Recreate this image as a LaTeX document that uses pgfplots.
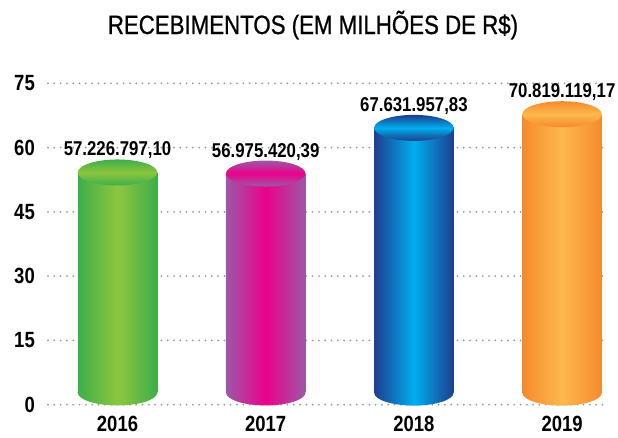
\documentclass[border=0pt]{standalone}
\usepackage{pgfplots}
\pgfplotsset{compat=1.18}
\usepackage{fontspec}
\setmainfont{Liberation Sans}[FakeStretch=0.84]
\newfontfamily\titlefont{Liberation Sans}[FakeStretch=0.84, FakeBold=0.8]
\definecolor{gE}{HTML}{3DAE4A}
\definecolor{gH}{HTML}{8DC63F}
\definecolor{pE}{HTML}{9B59A6}
\definecolor{pH}{HTML}{EC008C}
\definecolor{bE}{HTML}{1E3E8E}
\definecolor{bH}{HTML}{00AEEF}
\definecolor{oE}{HTML}{F58A2B}
\definecolor{oH}{HTML}{FDB94E}
\pgfdeclareplotmark{blank}{}
\pgfplotsset{
  cyl/.style 2 args={
    scatter, only marks, mark=blank,
    point meta=y, point meta min=0, point meta max=75,
    scatter/@pre marker code/.code={%
      \pgfkeys{/pgf/fpu=false}%
      \pgfmathsetmacro\cylH{\pgfplotspointmetatransformed*0.3224}%
      \pgfmathsetlengthmacro\cylB{13pt-\cylH pt}%
      \shade[draw=none, left color=#1, right color=#1, middle color=#2] (0pt,\cylB) ellipse [x radius=39.75pt, y radius=13pt];
      \shade[draw=none, left color=#1, right color=#1, middle color=#2] (-39.75pt,\cylB) rectangle (39.75pt,-13pt);
      \shade[draw=none, top color=#1, bottom color=#1, middle color=#2] (0pt,-13pt) ellipse [x radius=39.75pt, y radius=13pt];
    },
    scatter/@post marker code/.code={},
  }
}
\begin{document}
\begin{tikzpicture}
\begin{axis}[
  at={(48pt,32.3pt)}, anchor=south west,
  scale only axis, width=559pt, height=321.4pt,
  xmin=-0.469, xmax=3.303, ymin=0, ymax=75,
  clip=false,
  axis line style={draw=none},
  major tick length=0pt,
  ytick={0,15,30,45,60,75},
  xtick={0,1,2,3}, xticklabels={2016,2017,2018,2019},
  ymajorgrids,
  grid style={color=black!40, line width=2pt, line cap=round, dash pattern=on 0pt off 6.3pt},
  tick label style={font=\fontsize{22}{26}\selectfont\bfseries},
  /pgf/number format/assume math mode=true,
  yticklabel style={inner sep=0pt, xshift=-13pt},
  xticklabel style={anchor=north, inner sep=0pt, yshift=-11.5pt},
  title={RECEBIMENTOS (EM MILHÕES DE R\$)},
  title style={at={(0.474,1)}, anchor=base, inner sep=0pt, yshift=43.3pt, font=\fontsize{26.5}{30}\titlefont},
]
\addplot[cyl={gE}{gH}] coordinates {(0,57.226797)};
\addplot[cyl={pE}{pH}] coordinates {(1,56.975420)};
\addplot[cyl={bE}{bH}] coordinates {(2,67.631958)};
\addplot[cyl={oE}{oH}] coordinates {(3,70.819119)};
\addplot[only marks, mark=blank, point meta=explicit symbolic, nodes near coords,
  nodes near coords style={anchor=base, inner sep=0pt, yshift=3.5pt, text=black, font=\fontsize{20}{24}\selectfont\bfseries}]
  coordinates {(0,57.226797)[57.226.797,10] (1,56.975420)[56.975.420,39] (2,67.631958)[67.631.957,83] (3,70.819119)[70.819.119,17]};
\end{axis}
\pgfresetboundingbox
\useasboundingbox (0,0) rectangle (618pt,437pt);
\end{tikzpicture}
\end{document}
